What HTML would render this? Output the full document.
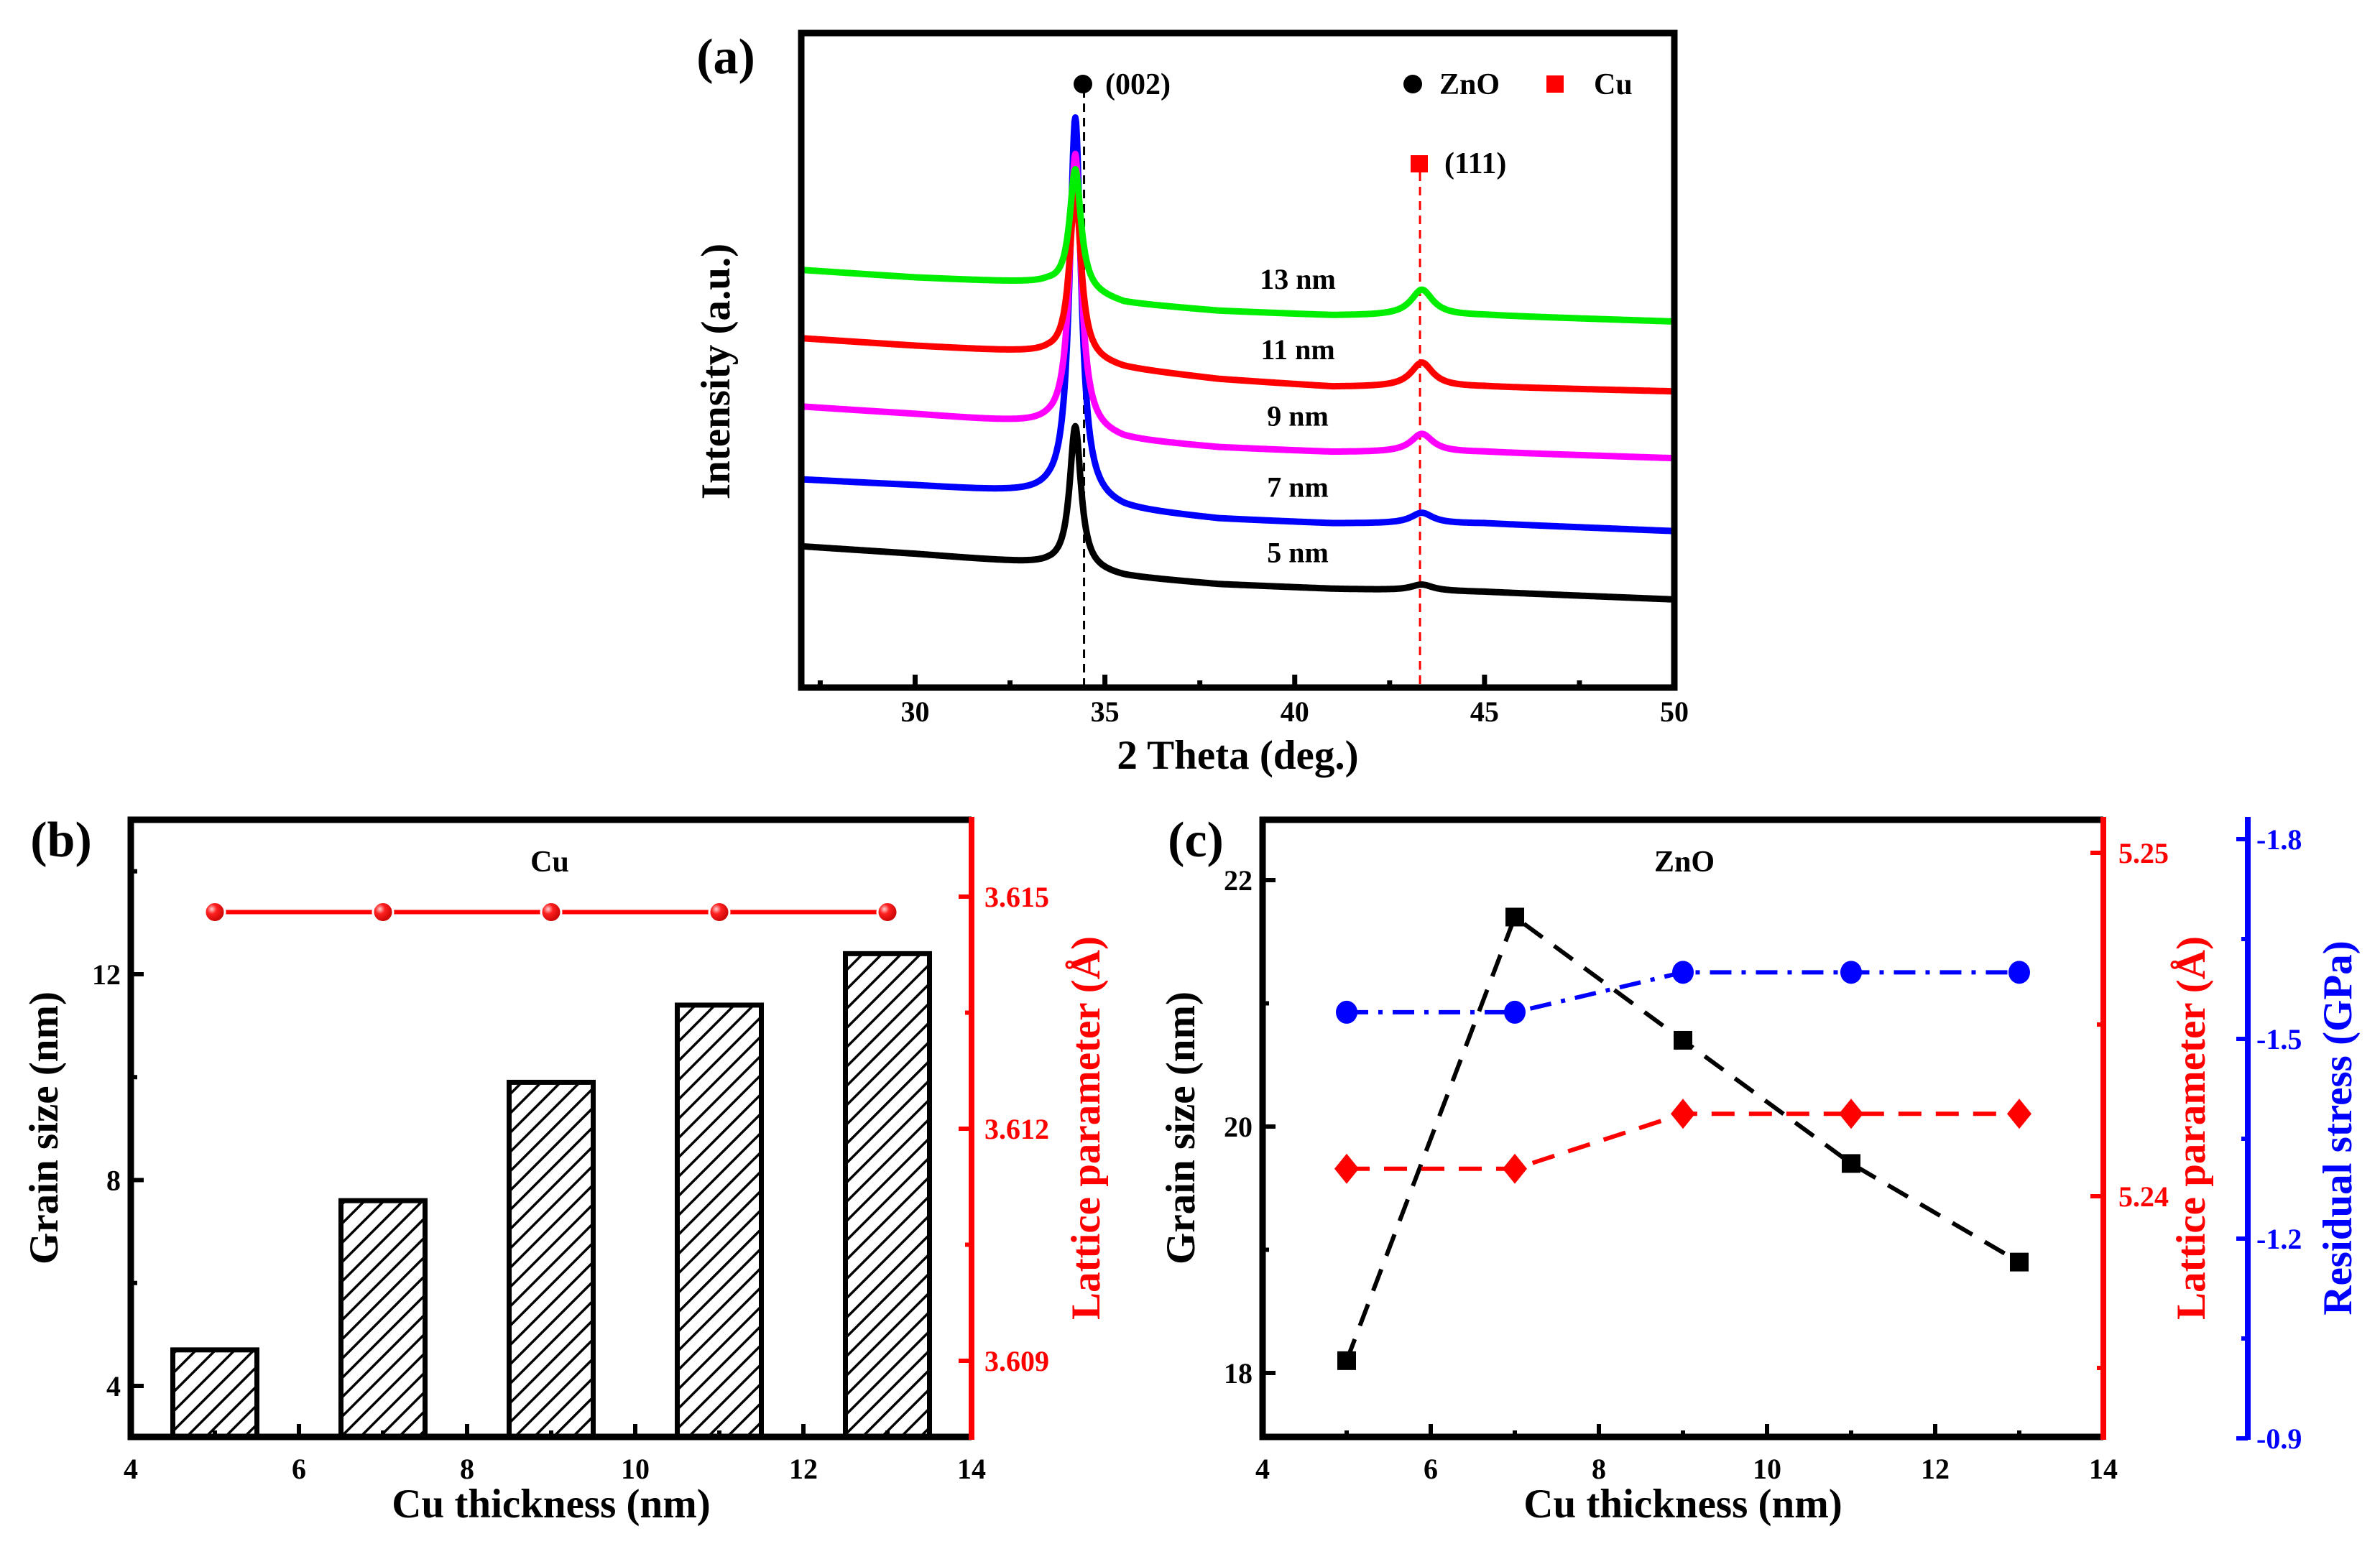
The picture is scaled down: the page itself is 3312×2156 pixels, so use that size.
<!DOCTYPE html>
<html><head><meta charset="utf-8"><style>
html,body{margin:0;padding:0;background:#fff;}
svg{display:block;font-family:"Liberation Serif",serif;font-weight:bold;}
</style></head><body>
<svg id="fig" width="3312" height="2156" viewBox="0 0 3312 2156" xmlns="http://www.w3.org/2000/svg">
<defs>
<pattern id="hatch" patternUnits="userSpaceOnUse" width="19" height="19" patternTransform="rotate(45)">
<rect width="19" height="19" fill="#fff"/><line x1="0" y1="0" x2="0" y2="19" stroke="#000" stroke-width="7"/>
</pattern>
<radialGradient id="ball" cx="0.35" cy="0.35" r="0.7"><stop offset="0" stop-color="#ffd0d0"/><stop offset="0.35" stop-color="#ff2020"/><stop offset="1" stop-color="#c00000"/></radialGradient>
</defs>
<g id="root"></g>
</svg>
<script>
// ---------- Panel (a) data ----------
const xrdAnchorsX = [27, 30, 33.5, 35.5, 38, 41, 45, 50];
const xrdLabels = ["5 nm", "7 nm", "9 nm", "11 nm", "13 nm"];
const xrdBase5 = [93, 88, 81, 73, 68, 65, 63, 58];
const xrdBase7 = [137, 133, 127, 117, 111, 108, 108, 103];
const xrdBase9 = [185, 180, 173, 163, 158, 155, 155, 151];
const xrdBase11 = [230, 225, 220, 210, 203, 198, 198, 195];
const xrdBase13 = [275, 270, 266, 253, 248, 245, 245, 241];
const xrdPeak002 = [94, 252, 182, 111, 80];
const xrdPeak111 = [4, 7, 12, 16, 17];
const xrdColors = ["#000000", "#0000ff", "#ff00ff", "#ff0000", "#00ee00"];
const xrdTicks = [30, 35, 40, 45, 50];
// ---------- Panel (b) data ----------
const cuThick = [5, 7, 9, 11, 13];
const cuGrain = [4.7, 7.6, 9.9, 11.4, 12.4];
const cuLattice = [3.6148, 3.6148, 3.6148, 3.6148, 3.6148];
const bXTicks = [4, 6, 8, 10, 12, 14];
const bYTicks = [4, 8, 12];
const bRTicks = [3.609, 3.612, 3.615];
// ---------- Panel (c) data ----------
const znoThick = [5, 7, 9, 11, 13];
const znoGrain = [18.1, 21.7, 20.7, 19.7, 18.9];
const znoLattice = [5.2408, 5.2408, 5.2424, 5.2424, 5.2424];
const znoStress = [-1.54, -1.54, -1.60, -1.60, -1.60];
const cYTicks = [18, 20, 22];
const cRTicks = [5.24, 5.25];
const cBTicks = [-1.8, -1.5, -1.2, -0.9];

const NS = "http://www.w3.org/2000/svg";
const root = document.getElementById("root");
function mk(tag, attrs, parent) {
  const e = document.createElementNS(NS, tag);
  for (const k in attrs) e.setAttribute(k, attrs[k]);
  (parent || root).appendChild(e);
  return e;
}
function txt(s, x, y, size, anchor, fill, parent, rot) {
  const t = mk("text", {x: x, y: y, "font-size": size, "text-anchor": anchor || "middle", fill: fill || "#000"}, parent);
  if (rot) t.setAttribute("transform", "rotate(" + rot + " " + x + " " + y + ")");
  t.textContent = s;
  return t;
}
const TL = 40, TT = 57;

// ================= Panel (a) =================
const ga = mk("g", {});


const aL = 1115, aR = 2330, aT = 46, aB = 957;
const ax = v => aL + (v - 27) / 23 * (aR - aL);
const ay = v => aB - v / 431 * (aB - aT);
function interp(xs, ys, x) {
  for (let i = 0; i < xs.length - 1; i++) {
    if (x <= xs[i + 1]) { const t = (x - xs[i]) / (xs[i + 1] - xs[i]); return ys[i] + t * (ys[i + 1] - ys[i]); }
  }
  return ys[ys.length - 1];
}
const bases = [xrdBase5, xrdBase7, xrdBase9, xrdBase11, xrdBase13];
let l = mk("line", {x1: ax(34.45), y1: 124, x2: ax(34.45), y2: aB, stroke: "#000", "stroke-width": 3, "stroke-dasharray": "12 8"}, ga);


l = mk("line", {x1: ax(43.3), y1: 240, x2: ax(43.3), y2: aB, stroke: "#ff0000", "stroke-width": 3, "stroke-dasharray": "12 8"}, ga);


for (let s = 0; s < 5; s++) {
  let d = "";
  for (let x = 27; x <= 50.001; x += 0.02) {
    const b = interp(xrdAnchorsX, bases[s], x);
    const p1 = xrdPeak002[s] / (1 + Math.pow((x - 34.22) / 0.18, 2));
    const p2 = xrdPeak111[s] / (1 + Math.pow((x - 43.35) / 0.35, 2));
    d += (d ? "L" : "M") + ax(x).toFixed(1) + " " + ay(b + p1 + p2).toFixed(1);
  }
  const p = mk("path", {d: d, fill: "none", stroke: xrdColors[s], "stroke-width": 9, "stroke-linejoin": "round"}, ga);
  
  
  const lb = txt(xrdLabels[s], 1806, ay(interp(xrdAnchorsX, bases[s], 40)) - 35, 40, "middle", "#000", ga);
  
  
}
let fr = mk("rect", {x: aL, y: aT, width: aR - aL, height: aB - aT, fill: "none", stroke: "#000", "stroke-width": 9}, ga);


for (let v = 27.5; v <= 50; v += 2.5) {
  const major = xrdTicks.includes(v);
  const t = mk("line", {x1: ax(v), y1: aB, x2: ax(v), y2: aB - (major ? 18 : 10), stroke: "#000", "stroke-width": 7}, ga);
  
  
}
for (const v of xrdTicks) {
  const t = txt(String(v), ax(v), 1004, TL, "middle", "#000", ga);
  
  
}
let t = txt("2 Theta (deg.)", ax(38.5), 1070, TT, "middle", "#000", ga);


t = txt("Intensity (a.u.)", 1015, 517, TT, "middle", "#000", ga, -90);


t = txt("(a)", 1010, 102, 70, "middle", "#000", ga);


let m = mk("circle", {cx: 1507, cy: 117, r: 13, fill: "#000"}, ga);


t = txt("(002)", 1538, 131, 42, "start", "#000", ga);


m = mk("rect", {x: 1963, y: 216, width: 24, height: 24, fill: "#ff0000"}, ga);


t = txt("(111)", 2010, 241, 42, "start", "#000", ga);


m = mk("circle", {cx: 1966, cy: 117, r: 13, fill: "#000"}, ga);


t = txt("ZnO", 2003, 131, 42, "start", "#000", ga);


m = mk("rect", {x: 2152, y: 105, width: 24, height: 24, fill: "#ff0000"}, ga);


t = txt("Cu", 2218, 131, 42, "start", "#000", ga);



// ================= Panel (b) =================
const gb = mk("g", {});


const bL = 182, bR = 1352, bT = 1141, bB = 2000;
const bx = v => bL + (v - 4) / 10 * (bR - bL);
const byL = v => 1929 - (v - 4) / 8 * (1929 - 1356);
const byR = v => 1894 - (v - 3.609) / 0.006 * (1894 - 1248);
cuThick.forEach((x, i) => {
  const r = mk("rect", {x: bx(x - 0.5), y: byL(cuGrain[i]), width: bx(x + 0.5) - bx(x - 0.5), height: bB - byL(cuGrain[i]), fill: "url(#hatch)", stroke: "#000", "stroke-width": 7}, gb);
  
  
});
let lp = "";
cuThick.forEach((x, i) => { lp += (i ? "L" : "M") + bx(x) + " " + byR(cuLattice[i]); });
l = mk("path", {d: lp, fill: "none", stroke: "#ff0000", "stroke-width": 6}, gb);


cuThick.forEach((x, i) => {
  const c = mk("circle", {cx: bx(x), cy: byR(cuLattice[i]), r: 14, fill: "url(#ball)", stroke: "#fff", "stroke-width": 3}, gb);
  
  
});
l = mk("path", {d: `M${bR} ${bB} L${bL} ${bB} L${bL} ${bT} L${bR} ${bT}`, fill: "none", stroke: "#000", "stroke-width": 9}, gb);


l = mk("line", {x1: bR, y1: bT - 4, x2: bR, y2: bB + 4, stroke: "#ff0000", "stroke-width": 8}, gb);


for (let v = 5; v <= 13; v += 1) {
  const major = v % 2 === 0;
  const tk = mk("line", {x1: bx(v), y1: bB, x2: bx(v), y2: bB - (major ? 18 : 9), stroke: "#000", "stroke-width": 6}, gb);
  
  
}
for (const v of bXTicks) {
  const tl = txt(String(v), bx(v), 2058, TL, "middle", "#000", gb);
  
  
}
for (let v = 4; v <= 14; v += 2) {
  const major = v % 4 === 0;
  const tk = mk("line", {x1: bL, y1: byL(v), x2: bL + (major ? 18 : 9), y2: byL(v), stroke: "#000", "stroke-width": 6}, gb);
  
  
}
for (const v of bYTicks) {
  const tl = txt(String(v), 168, byL(v) + 14, TL, "end", "#000", gb);
  
  
}
for (let k = 0; k <= 4; k++) {
  const v = 3.609 + k * 0.0015;
  const tk = mk("line", {x1: bR, y1: byR(v), x2: bR - (k % 2 ? 9 : 18), y2: byR(v), stroke: "#ff0000", "stroke-width": 6}, gb);
  
  
}
for (const v of bRTicks) {
  const tl = txt(v.toFixed(3), 1370, byR(v) + 14, TL, "start", "#ff0000", gb);
  
  
}
t = txt("Cu thickness (nm)", bx(9), 2112, TT, "middle", "#000", gb);


t = txt("Grain size (nm)", 80, 1570, TT, "middle", "#000", gb, -90);


t = txt("Lattice parameter (Å)", 1530, 1570, TT, "middle", "#ff0000", gb, -90);


t = txt("(b)", 85, 1192, 70, "middle", "#000", gb);


t = txt("Cu", 765, 1213, 42, "middle", "#000", gb);



// ================= Panel (c) =================
const gc = mk("g", {});


const cL = 1757, cR = 2927, cT = 1141, cB = 2000, bAx = 3128;
const cx = v => cL + (v - 4) / 10 * (cR - cL);
const cyL = v => 1911 - (v - 18) / 4 * (1911 - 1225);
const cyR = v => 1665 - (v - 5.24) / 0.01 * (1665 - 1187);
const cyB = v => 2002 - (v - (-0.9)) / (-0.9) * (2002 - 1168);
function series(xs, ys, fy, color, dash, name) {
  let d = "";
  xs.forEach((x, i) => { d += (i ? "L" : "M") + cx(x) + " " + fy(ys[i]); });
  const p = mk("path", {d: d, fill: "none", stroke: color, "stroke-width": 6, "stroke-dasharray": dash}, gc);
  
  
}
series(znoThick, znoGrain, cyL, "#000", "32 20", "zno-grain-line");
series(znoThick, znoLattice, cyR, "#ff0000", "32 20", "zno-lattice-line");
series(znoThick, znoStress, cyB, "#0000ff", "30 14 6 14", "zno-stress-line");
znoThick.forEach((x, i) => {
  const s = mk("rect", {x: cx(x) - 13, y: cyL(znoGrain[i]) - 13, width: 26, height: 26, fill: "#000"}, gc);
  
  
  const X = cx(x), Y = cyR(znoLattice[i]);
  const dm = mk("polygon", {points: `${X},${Y - 21} ${X + 17},${Y} ${X},${Y + 21} ${X - 17},${Y}`, fill: "#ff0000"}, gc);
  
  
  const c = mk("ellipse", {cx: X, cy: cyB(znoStress[i]), rx: 15, ry: 16, fill: "#0000ff"}, gc);
  
  
});
l = mk("path", {d: `M${cR} ${cB} L${cL} ${cB} L${cL} ${cT} L${cR} ${cT}`, fill: "none", stroke: "#000", "stroke-width": 9}, gc);


l = mk("line", {x1: cR, y1: cT - 4, x2: cR, y2: cB + 4, stroke: "#ff0000", "stroke-width": 8}, gc);


l = mk("line", {x1: bAx, y1: cT - 4, x2: bAx, y2: cB + 4, stroke: "#0000ff", "stroke-width": 8}, gc);


for (let v = 5; v <= 13; v += 1) {
  const major = v % 2 === 0;
  const tk = mk("line", {x1: cx(v), y1: cB, x2: cx(v), y2: cB - (major ? 18 : 9), stroke: "#000", "stroke-width": 6}, gc);
  
  
}
for (const v of bXTicks) {
  const tl = txt(String(v), cx(v), 2058, TL, "middle", "#000", gc);
  
  
}
for (let v = 18; v <= 22; v += 1) {
  const major = v % 2 === 0;
  const tk = mk("line", {x1: cL, y1: cyL(v), x2: cL + (major ? 18 : 9), y2: cyL(v), stroke: "#000", "stroke-width": 6}, gc);
  
  
}
for (const v of cYTicks) {
  const tl = txt(String(v), 1743, cyL(v) + 14, TL, "end", "#000", gc);
  
  
}
for (let k = 0; k <= 3; k++) {
  const v = 5.235 + k * 0.005;
  const tk = mk("line", {x1: cR, y1: cyR(v), x2: cR - (k % 2 ? 18 : 9), y2: cyR(v), stroke: "#ff0000", "stroke-width": 6}, gc);
  
  
}
for (const v of cRTicks) {
  const tl = txt(v.toFixed(2), 2948, cyR(v) + 14, TL, "start", "#ff0000", gc);
  
  
}
for (let k = 0; k <= 6; k++) {
  const v = -1.8 + k * 0.15;
  const tk = mk("line", {x1: bAx, y1: cyB(v), x2: bAx - (k % 2 ? 9 : 16), y2: cyB(v), stroke: "#0000ff", "stroke-width": 6}, gc);
  
  
}
for (const v of cBTicks) {
  const tl = txt(v.toFixed(1), 3140, cyB(v) + 14, TL, "start", "#0000ff", gc);
  
  
}
t = txt("Cu thickness (nm)", cx(9), 2112, TT, "middle", "#000", gc);


t = txt("Grain size (nm)", 1662, 1570, TT, "middle", "#000", gc, -90);


t = txt("Lattice parameter (Å)", 3068, 1570, TT, "middle", "#ff0000", gc, -90);


t = txt("Residual stress (GPa)", 3272, 1570, TT, "middle", "#0000ff", gc, -90);


t = txt("(c)", 1664, 1192, 70, "middle", "#000", gc);


t = txt("ZnO", 2344, 1213, 42, "middle", "#000", gc);


</script>
</body></html>
